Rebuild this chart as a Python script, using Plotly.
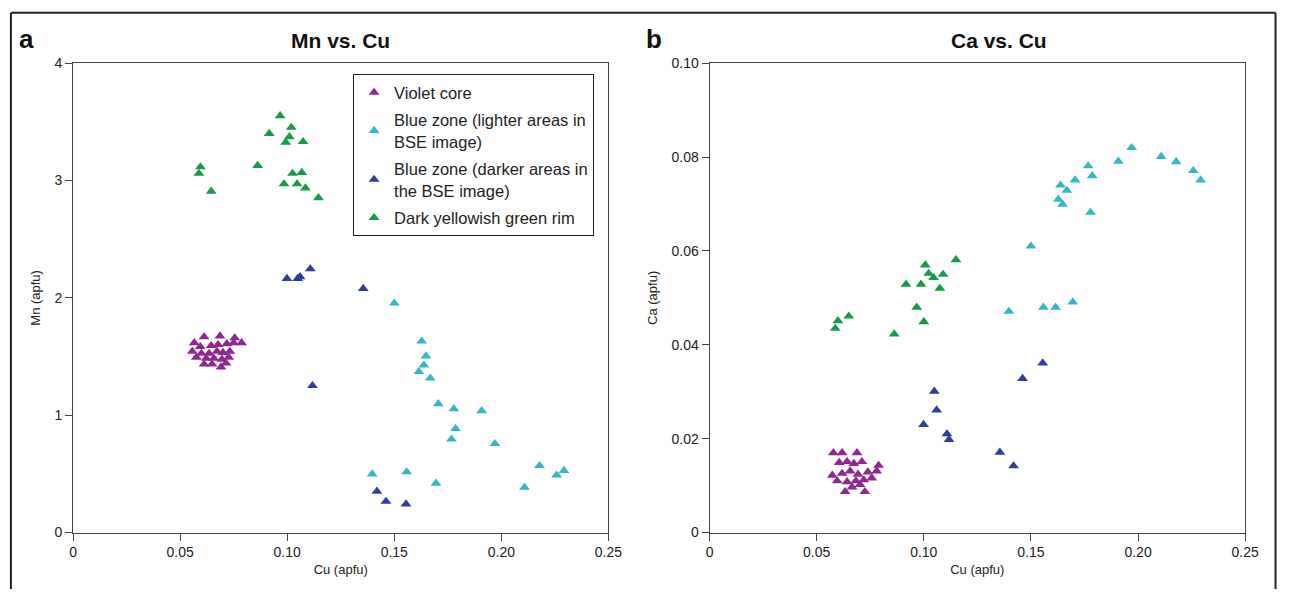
import plotly.graph_objects as go

# ---------------- data ----------------
# Violet core (panel a: Mn vs Cu)
cu_violet_a = [0.0612, 0.0686, 0.0755, 0.0787, 0.0566, 0.0594, 0.0645, 0.0677, 0.0718, 0.0750,
               0.0557, 0.0599, 0.0635, 0.0672, 0.0700, 0.0732, 0.0576, 0.0622, 0.0658, 0.0695,
               0.0727, 0.0612, 0.0649, 0.0691, 0.0714]
mn_violet = [1.667, 1.675, 1.659, 1.617, 1.617, 1.584, 1.592, 1.601, 1.609, 1.617,
             1.543, 1.526, 1.526, 1.543, 1.534, 1.543, 1.493, 1.484, 1.484, 1.476,
             1.493, 1.435, 1.435, 1.410, 1.443]
# Violet core (panel b: Ca vs Cu)
cu_violet_b = [0.0578, 0.0619, 0.0688, 0.0605, 0.0642, 0.0674, 0.0711, 0.0789, 0.0780, 0.0573,
               0.0619, 0.0656, 0.0693, 0.0739, 0.0596, 0.0642, 0.0683, 0.0720, 0.0757, 0.0633,
               0.0725, 0.0665, 0.0702]
ca_violet = [0.0170, 0.0170, 0.0170, 0.0149, 0.0151, 0.0147, 0.0151, 0.0143, 0.0131, 0.0122,
             0.0126, 0.0131, 0.0124, 0.0129, 0.0110, 0.0108, 0.0110, 0.0112, 0.0116, 0.0087,
             0.0087, 0.0097, 0.0102]

# Blue zone, lighter areas in BSE image
cu_light = [0.1397, 0.1500, 0.1558, 0.1615, 0.1628, 0.1638, 0.1648, 0.1668, 0.1695, 0.1706,
            0.1767, 0.1778, 0.1786, 0.1908, 0.1970, 0.2108, 0.2178, 0.2258, 0.2292]
mn_light = [0.498, 1.955, 0.517, 1.371, 1.631, 1.426, 1.504, 1.316, 0.420, 1.097,
            0.796, 1.053, 0.885, 1.037, 0.757, 0.384, 0.570, 0.489, 0.528]
ca_light = [0.0471, 0.0610, 0.0480, 0.0480, 0.0710, 0.0740, 0.0699, 0.0729, 0.0491, 0.0751,
            0.0781, 0.0682, 0.0760, 0.0791, 0.0820, 0.0801, 0.0790, 0.0771, 0.0751]

# Blue zone, darker areas in the BSE image
cu_dark = [0.0999, 0.1049, 0.1060, 0.1108, 0.1118, 0.1355, 0.1419, 0.1461, 0.1555]
mn_dark = [2.165, 2.165, 2.180, 2.247, 1.252, 2.079, 0.351, 0.265, 0.243]
ca_dark = [0.0230, 0.0301, 0.0261, 0.0210, 0.0198, 0.0171, 0.0142, 0.0328, 0.0361]

# Dark yellowish green rim
cu_green_a = [0.0967, 0.0916, 0.1019, 0.1010, 0.0993, 0.1074, 0.0595, 0.0588, 0.0645, 0.0862,
              0.1025, 0.1068, 0.0985, 0.1046, 0.1085, 0.1146]
mn_green = [3.552, 3.400, 3.452, 3.373, 3.326, 3.331, 3.116, 3.060, 2.908, 3.127,
            3.060, 3.068, 2.971, 2.971, 2.936, 2.853]
cu_green_b = [0.1007, 0.1150, 0.1023, 0.1046, 0.1090, 0.0917, 0.0987, 0.1075, 0.0967, 0.1000,
              0.0650, 0.0599, 0.0587, 0.0862]
ca_green = [0.0570, 0.0581, 0.0552, 0.0543, 0.0550, 0.0529, 0.0529, 0.0520, 0.0480, 0.0449,
            0.0461, 0.0451, 0.0435, 0.0423]

series_names = ["Violet core",
                "Blue zone (lighter areas in<br>BSE image)",
                "Blue zone (darker areas in<br>the BSE image)",
                "Dark yellowish green rim"]
series_colors = ["#8E278F", "#35B8C3", "#2F3E97", "#199A48"]

x_tickvals = [0, 0.05, 0.10, 0.15, 0.20, 0.25]
x_ticktext = ["0", "0.05", "0.10", "0.15", "0.20", "0.25"]
mn_tickvals = [0, 1, 2, 3, 4]
ca_tickvals = [0, 0.02, 0.04, 0.06, 0.08, 0.10]
ca_ticktext = ["0", "0.02", "0.04", "0.06", "0.08", "0.10"]

panel_a = [(cu_violet_a, mn_violet), (cu_light, mn_light), (cu_dark, mn_dark), (cu_green_a, mn_green)]
panel_b = [(cu_violet_b, ca_violet), (cu_light, ca_light), (cu_dark, ca_dark), (cu_green_b, ca_green)]

# ---------------- figure ----------------
W, H = 1292, 597
fig = go.Figure()

for i, (name, col) in enumerate(zip(series_names, series_colors)):
    xa, ya = panel_a[i]
    fig.add_trace(go.Scatter(x=xa, y=ya, mode="markers", name=name, legendgroup=name,
                             marker=dict(symbol="triangle-up", size=9.5, color=col),
                             xaxis="x", yaxis="y", showlegend=True))
for i, (name, col) in enumerate(zip(series_names, series_colors)):
    xb, yb = panel_b[i]
    fig.add_trace(go.Scatter(x=xb, y=yb, mode="markers", name=name, legendgroup=name,
                             marker=dict(symbol="triangle-up", size=9.5, color=col),
                             xaxis="x2", yaxis="y2", showlegend=False))

FAM = "Liberation Sans, Arial, sans-serif"
TICKFONT = dict(family=FAM, size=14, color="#222")
TITLEFONT = dict(family=FAM, size=13, color="#222")


def px_x(p):
    return p / W


def px_y(p):
    return 1 - p / H


ydom = [px_y(539), px_y(56.7)]
axis_common = dict(showline=True, linecolor="#444", linewidth=1, mirror=True,
                   ticks="outside", ticklen=7, tickcolor="#444", tickwidth=1,
                   showgrid=False, zeroline=False, tickfont=TICKFONT)

fig.update_layout(
    width=W, height=H,
    margin=dict(l=0, r=0, t=0, b=0),
    paper_bgcolor="white", plot_bgcolor="white",
    xaxis=dict(domain=[px_x(70), px_x(613)], range=[0, 0.25], anchor="y",
               tickvals=x_tickvals, ticktext=x_ticktext,
               title=dict(text="Cu (apfu)", font=TITLEFONT, standoff=5), **axis_common),
    yaxis=dict(domain=ydom, range=[0, 4], anchor="x", tickvals=mn_tickvals,
               title=dict(text="Mn (apfu)", font=TITLEFONT, standoff=10), **axis_common),
    xaxis2=dict(domain=[px_x(715.5), px_x(1258.7)], range=[0, 0.25], anchor="y2",
                tickvals=x_tickvals, ticktext=x_ticktext,
                title=dict(text="Cu (apfu)", font=TITLEFONT, standoff=5), **axis_common),
    yaxis2=dict(domain=ydom, range=[0, 0.10], anchor="x2", tickvals=ca_tickvals,
                ticktext=ca_ticktext,
                title=dict(text="Ca (apfu)", font=TITLEFONT, standoff=10), **axis_common),
    legend=dict(x=px_x(354), y=px_y(68), xanchor="left", yanchor="top",
                bordercolor="#222", borderwidth=1, bgcolor="white",
                font=dict(family=FAM, size=16.5, color="#222"),
                itemwidth=30, tracegroupgap=3),
    showlegend=True,
)

annots = [
    dict(text="<b>a</b>", x=px_x(23), y=px_y(32), font=dict(family=FAM, size=26, color="#111")),
    dict(text="<b>Mn vs. Cu</b>", x=px_x(341), y=px_y(33), font=dict(family=FAM, size=21, color="#111")),
    dict(text="<b>b</b>", x=px_x(659), y=px_y(32), font=dict(family=FAM, size=26, color="#111")),
    dict(text="<b>Ca vs. Cu</b>", x=px_x(1009), y=px_y(33), font=dict(family=FAM, size=21, color="#111")),
]
for a in annots:
    fig.add_annotation(xref="paper", yref="paper", showarrow=False, xanchor="center",
                       yanchor="middle", **a)

# outer frame: left, top and right sides (bottom edge is off the page)
frame = dict(type="line", xref="paper", yref="paper", line=dict(color="#222", width=2))
fig.add_shape(x0=px_x(7), x1=px_x(7), y0=0, y1=px_y(5), **frame)
fig.add_shape(x0=px_x(7), x1=px_x(1289.5), y0=px_y(5), y1=px_y(5), **frame)
fig.add_shape(x0=px_x(1289.5), x1=px_x(1289.5), y0=0, y1=px_y(5), **frame)

fig.write_html("out.html", config={"displayModeBar": False},
               post_script=("document.documentElement.style.margin='0';"
                            "document.body.style.margin='0';"
                            "document.documentElement.style.overflow='hidden';"
                            "document.body.style.overflow='hidden';"))
